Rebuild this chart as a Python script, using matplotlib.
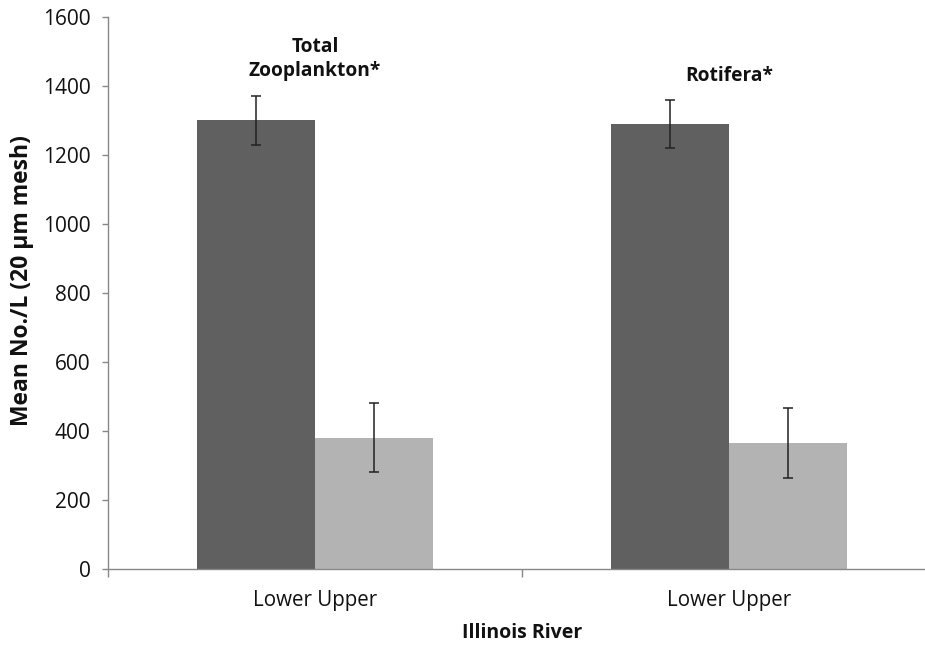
import matplotlib
matplotlib.use("Agg")
import matplotlib.pyplot as plt
import numpy as np

plt.rcParams['font.family'] = ['Open Sans', 'DejaVu Sans']

# data
groups = ["Total\nZooplankton*", "Rotifera*"]
tick_labels = ["Lower Upper", "Lower Upper"]
lower_mean = [1300, 1289]
lower_err = [72, 70]
upper_mean = [381, 365]
upper_err = [99, 101]

fig = plt.figure(figsize=(9.25, 6.46), dpi=100)
ax = fig.add_axes([108 / 925, 77 / 646, 828 / 925, 552 / 646])

x = np.arange(len(groups))
w = 0.284
ax.bar(x - w / 2, lower_mean, w, color="#606060", zorder=2)
ax.bar(x + w / 2, upper_mean, w, color="#b3b3b3", zorder=2)
ax.errorbar(x - w / 2, lower_mean, yerr=lower_err, fmt="none", ecolor="#222222",
            elinewidth=1.1, capsize=3.8, capthick=1.1, zorder=3)
ax.errorbar(x + w / 2, upper_mean, yerr=upper_err, fmt="none", ecolor="#222222",
            elinewidth=1.1, capsize=3.8, capthick=1.1, zorder=3)

# group titles above bars
label_y = [1478, 1428]
for xi, g, ly in zip(x, groups, label_y):
    ax.text(xi, ly, g, ha="center", va="center", fontsize=13.8, fontweight="bold",
            linespacing=1.25, color="#111111")

ax.set_xlim(-0.5, 1.5)
ax.set_ylim(0, 1600)
ax.set_yticks(np.arange(0, 1601, 200))
ax.set_xticks(x)
ax.set_xticklabels(tick_labels, fontsize=14.8, color="#111111")
ax.set_xticks([-0.5, 0.5, 1.5], minor=True)
ax.tick_params(axis="x", which="major", length=0, pad=15)
ax.tick_params(axis="x", which="minor", length=6, color="#888888", width=1)
ax.tick_params(axis="y", length=4.5, color="#888888", width=1, labelsize=15,
               labelcolor="#111111", pad=8)

for s in ["top", "right"]:
    ax.spines[s].set_visible(False)
for s in ["left", "bottom"]:
    ax.spines[s].set_color("#888888")
    ax.spines[s].set_linewidth(1)

ax.set_ylabel("Mean No./L (20 μm mesh)", fontsize=16.5, fontweight="bold", color="#111111")
ax.yaxis.label.set_va("center")
ax.yaxis.set_label_coords(-0.104, 0.522)
ax.set_xlabel("Illinois River", fontsize=14, fontweight="bold", color="#111111")
ax.xaxis.label.set_va("center")
ax.xaxis.set_label_coords(0.5, -0.116)

fig.savefig("out.png", dpi=100)
